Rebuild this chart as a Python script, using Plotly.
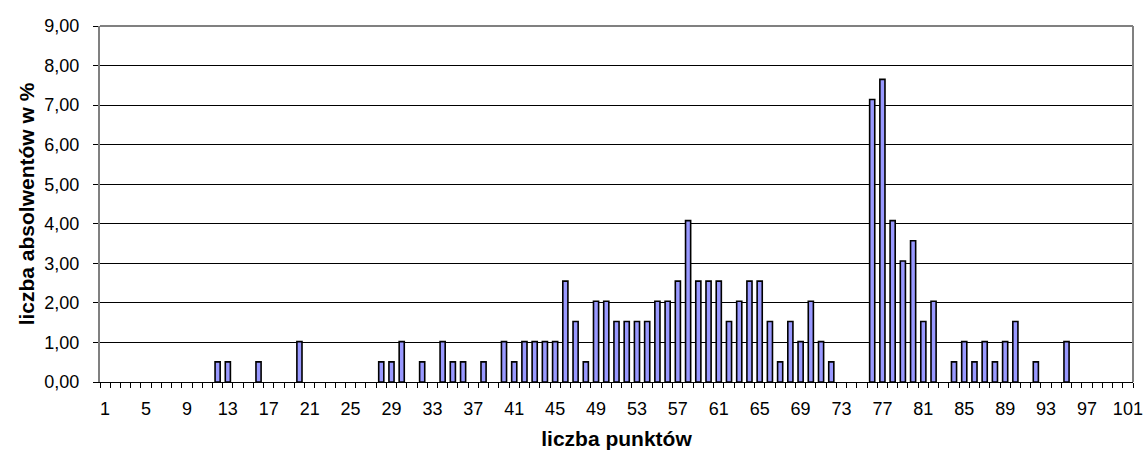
import plotly.graph_objects as go

categories = list(range(1, 102))
nonzero = {
    12: 0.51, 13: 0.51, 16: 0.51, 20: 1.02, 28: 0.51, 29: 0.51, 30: 1.02,
    32: 0.51, 34: 1.02, 35: 0.51, 36: 0.51, 38: 0.51, 40: 1.02, 41: 0.51,
    42: 1.02, 43: 1.02, 44: 1.02, 45: 1.02, 46: 2.55, 47: 1.53, 48: 0.51,
    49: 2.04, 50: 2.04, 51: 1.53, 52: 1.53, 53: 1.53, 54: 1.53, 55: 2.04,
    56: 2.04, 57: 2.55, 58: 4.08, 59: 2.55, 60: 2.55, 61: 2.55, 62: 1.53,
    63: 2.04, 64: 2.55, 65: 2.55, 66: 1.53, 67: 0.51, 68: 1.53, 69: 1.02,
    70: 2.04, 71: 1.02, 72: 0.51, 76: 7.14, 77: 7.65, 78: 4.08, 79: 3.06,
    80: 3.57, 81: 1.53, 82: 2.04, 84: 0.51, 85: 1.02, 86: 0.51, 87: 1.02,
    88: 0.51, 89: 1.02, 90: 1.53, 92: 0.51, 95: 1.02,
}
values = [nonzero.get(c) for c in categories]  # None where no bar
x_tick_labels = list(range(1, 102, 4))
y_ticks = list(range(0, 10))

fig = go.Figure(go.Bar(
    x=categories, y=values,
    marker=dict(color="#9999FF", line=dict(color="#000000", width=1.6)),
    width=0.5,
))

font = "Liberation Sans, Arial, sans-serif"
fig.update_layout(
    width=1145, height=455,
    margin=dict(l=100, r=12, t=26, b=73),
    plot_bgcolor="white", paper_bgcolor="white",
    separators=", ",
    showlegend=False,
    font=dict(family=font, size=18, color="black"),
    xaxis=dict(
        range=[0.5, 101.5], tickmode="array", tickvals=x_tick_labels,
        ticks="", showgrid=False, showline=True, linecolor="black", linewidth=1,
        minor=dict(tick0=0.5, dtick=1, ticks="outside", ticklen=5, tickcolor="black", showgrid=False),
        tickfont=dict(size=18), zeroline=False, automargin=False,
        ticklabelstandoff=10,
        title=dict(text="<b>liczba punktów</b>", font=dict(size=21), standoff=13),
    ),
    yaxis=dict(
        range=[0, 9], tickmode="array", tickvals=y_ticks, tickformat=".2f",
        ticks="outside", ticklen=5, tickcolor="black",
        showgrid=True, gridcolor="black", gridwidth=1,
        showline=True, linecolor="#808080", linewidth=2, zeroline=False,
        tickfont=dict(size=18), automargin=False, ticklabelstandoff=10,
        title=dict(text="<b>liczba absolwentów w %</b>", font=dict(size=21), standoff=4),
    ),
    shapes=[
        dict(type="line", xref="paper", yref="paper", x0=0, x1=1, y0=1, y1=1,
             line=dict(color="#808080", width=2)),
        dict(type="line", xref="paper", yref="paper", x0=1, x1=1, y0=0, y1=1,
             line=dict(color="#808080", width=2)),
    ],
)

fig.write_html(
    "out.html",
    config={"displayModeBar": False},
    post_script="document.body.style.margin='0px';document.body.style.overflow='hidden';",
)
